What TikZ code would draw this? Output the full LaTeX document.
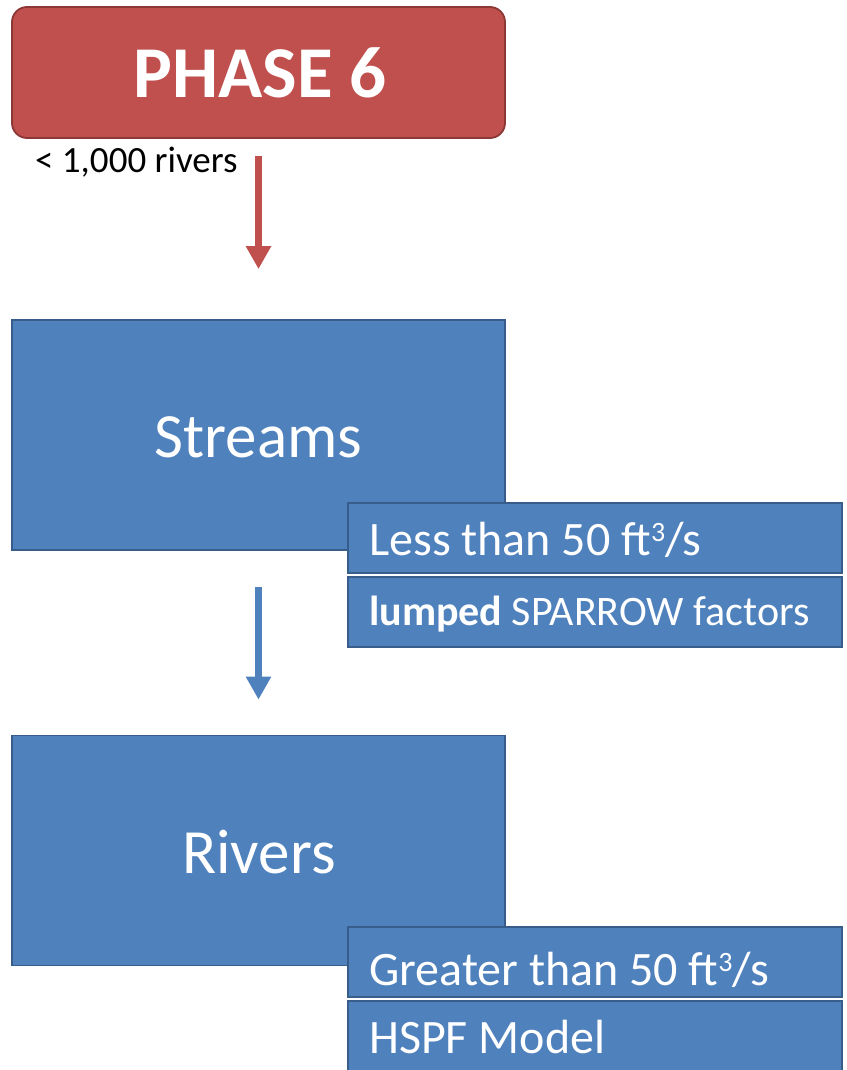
\documentclass[tikz,border=0pt]{standalone}
\usepackage{fontspec}
\setmainfont{Carlito}
\usetikzlibrary{arrows.meta}
\definecolor{phred}{HTML}{C0504D}
\definecolor{phredline}{HTML}{8C3836}
\definecolor{phblue}{HTML}{4F81BD}
\definecolor{phblueline}{HTML}{385D8A}
\newcommand{\cubed}{\raisebox{14pt}{\fontsize{28}{28}\selectfont 3}}
\tikzset{
  redbox/.style={draw=phredline, fill=phred, line width=1.8pt, rounded corners=15pt, minimum width=493pt, minimum height=131pt, inner sep=0pt},
  bigbox/.style={draw=phblueline, fill=phblue, line width=1.8pt, minimum width=493pt, minimum height=230pt, inner sep=0pt},
  smallbox/.style={draw=phblueline, fill=phblue, line width=1.8pt, minimum width=494pt, minimum height=70pt, inner sep=0pt},
  bigtxt/.style={text=white, font=\fontsize{63}{70}\selectfont, inner sep=0pt, anchor=base},
  smalltxt/.style={text=white, font=\fontsize{48}{52}\selectfont, inner sep=0pt, anchor=base west},
  flow/.style={line width=7pt, -{Triangle[width=24pt,length=23pt]}},
}
\begin{document}
\begin{tikzpicture}[x=1pt,y=-1pt]
\useasboundingbox (0,0) rectangle (846,1070);
\clip (0,0) rectangle (846,1070);
% Phase 6
\node[redbox] (phase) at (258.5,72.5) {};
\node[text=white, font=\fontsize{73}{80}\selectfont\bfseries, inner sep=0pt, anchor=base] (phasetxt) at (260,98) {PHASE 6};
\node[font=\fontsize{37}{40}\selectfont, inner sep=0pt, anchor=base west] (count) at (35,172) {< 1,000 rivers};
% Streams
\node[bigbox] (streams) at (258.5,435) {};
\node[bigtxt] (streamstxt) at (258.5,457) {Streams};
\node[smallbox] (less) at (595,538) {};
\node[smalltxt] (lesstxt) at (369,555) {Less than 50 ft\cubed/s};
\node[smallbox] (lumped) at (595,612) {};
\node[smalltxt, font=\fontsize{42}{48}\selectfont] (lumpedtxt) at (369,625) {\textbf{lumped} SPARROW factors};
% Rivers
\node[bigbox] (rivers) at (258.5,850.5) {};
\node[bigtxt] (riverstxt) at (259,873) {Rivers};
\node[smallbox] (greater) at (595,962) {};
\node[smalltxt] (greatertxt) at (369,985) {Greater than 50 ft\cubed/s};
\node[smallbox] (hspf) at (595,1036) {};
\node[smalltxt] (hspftxt) at (369,1053) {HSPF Model};
% arrows
\draw[flow, draw=phred, fill=phred, shorten <=17pt, shorten >=50pt] (phase.south) -- (streams.north);
\draw[flow, draw=phblue, fill=phblue, shorten <=36pt, shorten >=35pt] (streams.south) -- (rivers.north);
\end{tikzpicture}
\end{document}
